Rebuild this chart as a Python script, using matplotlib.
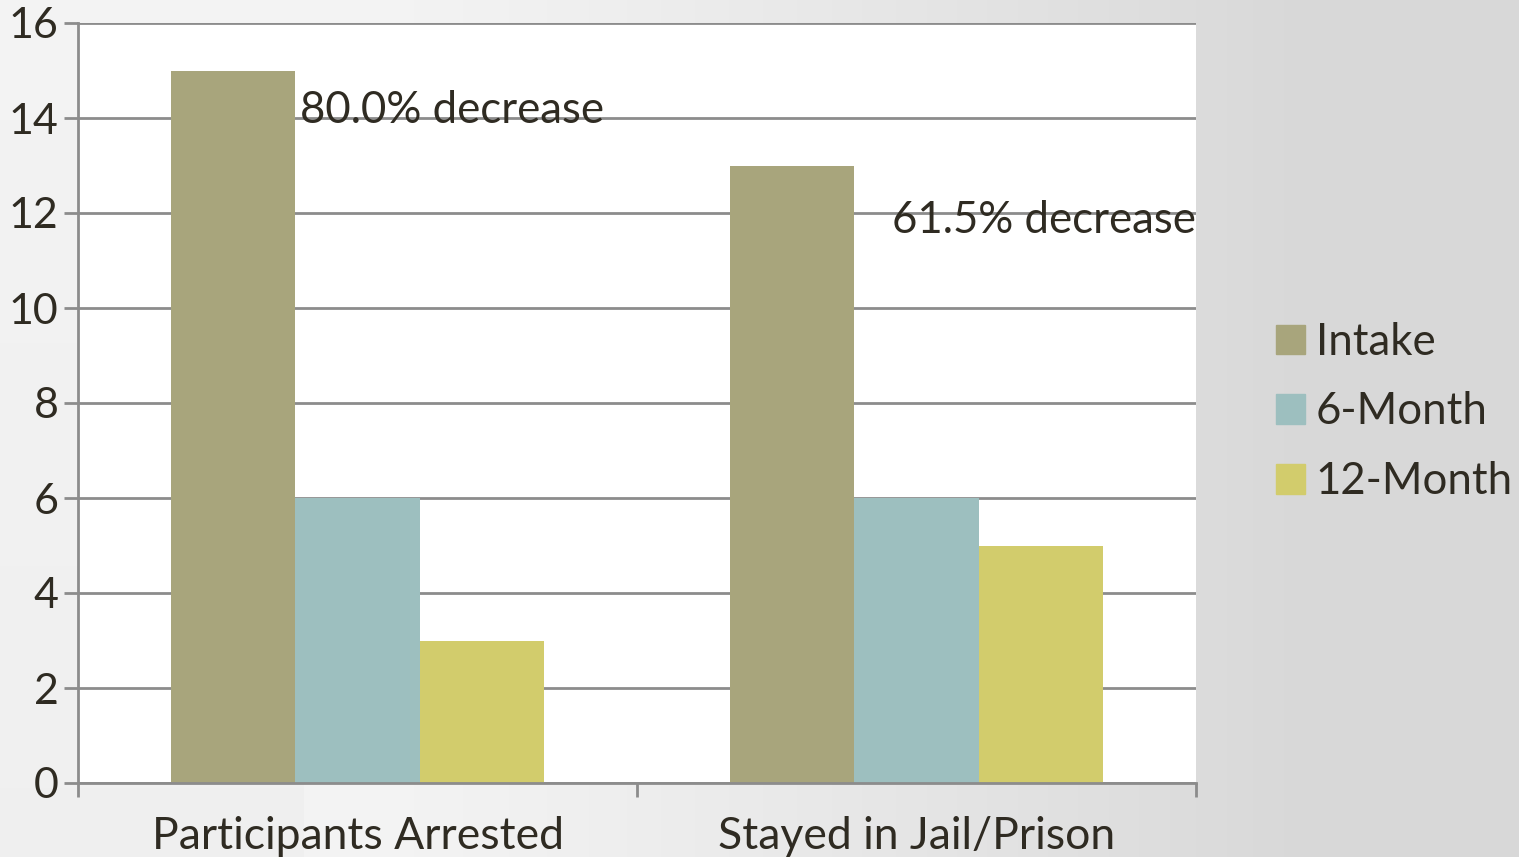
import numpy as np
import matplotlib.pyplot as plt
from matplotlib.patches import Patch

categories = ['Participants Arrested', 'Stayed in Jail/Prison']
series = ['Intake', '6-Month', '12-Month']
intake = [15, 13]
six_month = [6, 6]
twelve_month = [3, 5]
notes = ['80.0% decrease', '61.5% decrease']
note_y = [14.15, 11.85]

colors = ['#a8a57c', '#9dbfbf', '#d2cc6c']
text_color = '#2f2b22'

plt.rcParams['font.family'] = ['Lato', 'DejaVu Sans']

fig = plt.figure(figsize=(15.19, 8.57), dpi=100)

# soft grey slide background, lighter on the left
bg = fig.add_axes([0, 0, 1, 1], zorder=-10)
xx, yy = np.meshgrid(np.linspace(0, 1, 400), np.linspace(0, 1, 200))
shade = 0.955 - 0.105 * np.clip((xx - 0.25) / 0.6, 0, 1) ** 1.2 - 0.015 * (1 - yy) * (xx < 0.2)
bg.imshow(np.dstack([shade] * 3), aspect='auto', extent=[0, 1, 0, 1], origin='lower')
bg.axis('off')

ax = fig.add_axes([78 / 1519, 1 - 783 / 857, (1196 - 78) / 1519, (783 - 23) / 857])
ax.set_facecolor('white')

x = np.arange(len(categories))
w = 0.222
for i, vals in enumerate([intake, six_month, twelve_month]):
    ax.bar(x + (i - 1) * w, vals, w, color=colors[i], label=series[i], zorder=3)

ax.set_xlim(-0.5, 1.5)
ax.set_ylim(0, 16)
ax.set_yticks(range(0, 17, 2))
ax.set_xticks([-0.5, 0.5, 1.5], minor=False)
ax.set_xticklabels([])
ax.set_xticks(x, minor=True)
ax.set_xticklabels(categories, minor=True)
ax.tick_params(axis='x', which='minor', length=0, pad=24, labelsize=32)
ax.tick_params(axis='x', which='major', length=10, width=2, color='#8c8c8c')
ax.tick_params(axis='y', length=10, width=2, color='#8c8c8c', pad=4, labelsize=31)
ax.tick_params(labelcolor=text_color, which='both')

ax.grid(axis='y', color='#8c8c8c', linewidth=2, zorder=0)
for s in ['top', 'right']:
    ax.spines[s].set_visible(False)
for s in ['left', 'bottom']:
    ax.spines[s].set_color('#8c8c8c')
    ax.spines[s].set_linewidth(2)
    ax.spines[s].set_zorder(4)

for xi, txt, ty in zip([-0.103, 0.956], notes, note_y):
    ax.text(xi, ty, txt, fontsize=31.5, color=text_color, va='center', ha='left',
            clip_on=True, zorder=5)

handles = [Patch(color=c) for c in colors]
fig.legend(handles, series, loc='center left', bbox_to_anchor=(1276 / 1519, 1 - 412 / 857),
           frameon=False, fontsize=31.5, labelcolor=text_color, handlelength=0.66,
           handleheight=0.66, handletextpad=0.25, labelspacing=0.66,
           borderaxespad=0, borderpad=0)

fig.savefig('out.png', dpi=100)
